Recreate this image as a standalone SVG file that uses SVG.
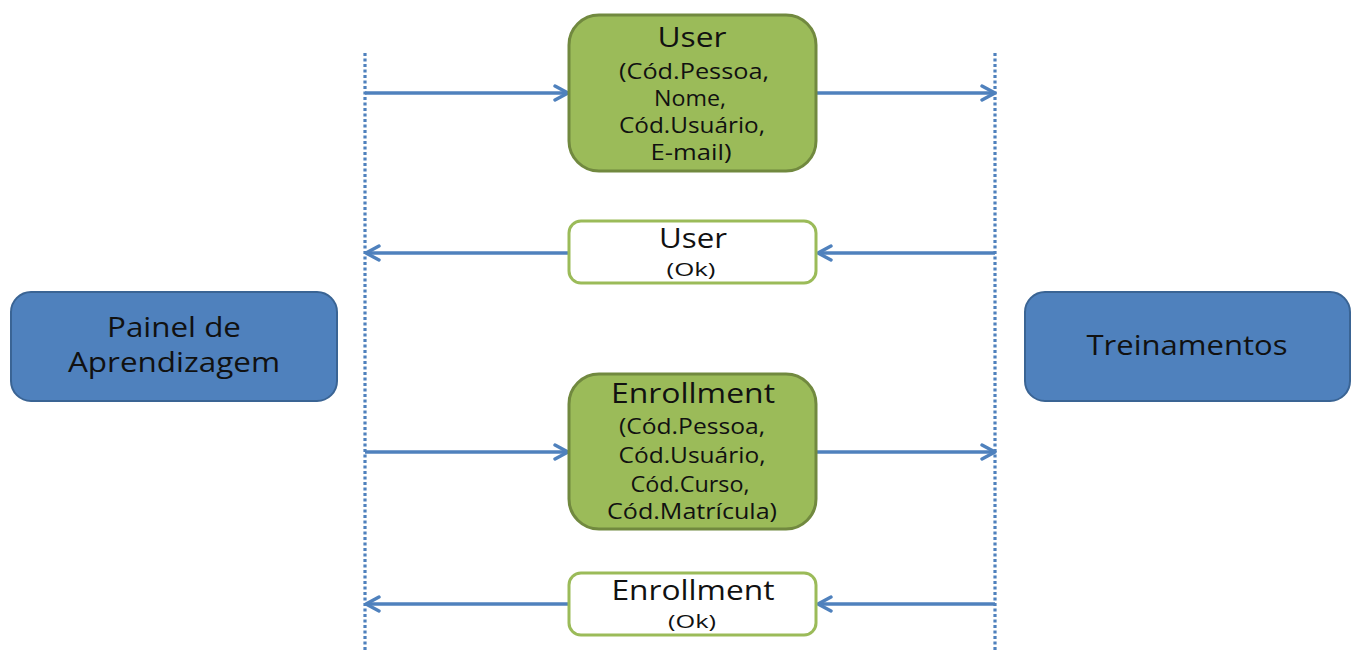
<svg xmlns="http://www.w3.org/2000/svg" width="1354" height="652" viewBox="0 0 1354 652">
<defs>
<marker id="ah" viewBox="0 0 18 18" refX="16" refY="9" markerWidth="18" markerHeight="18" markerUnits="userSpaceOnUse" orient="auto">
<path d="M3,2 L16,9 L3,16" fill="none" stroke="#4F81BD" stroke-width="3.4" stroke-linecap="round" stroke-linejoin="round"/>
</marker>
</defs>
<style>
text{font-family:"Open Sans","Noto Sans",sans-serif;fill:#111;text-anchor:middle}
.blue{fill:#4F81BD;stroke:#3A6494;stroke-width:2}
.green{fill:#9BBB59;stroke:#71893F;stroke-width:3}
.ok{fill:#fff;stroke:#9BBB59;stroke-width:3}
.life{stroke:#4F81BD;stroke-width:3.2;stroke-dasharray:3 2.5}
.msg{stroke:#4F81BD;stroke-width:3.6;fill:none;marker-end:url(#ah)}
.t{font-size:27px}
.s{font-size:22px}
.k{font-size:18px}
.b{font-size:27px}
</style>
<g id="lifelines">
<line class="life" x1="365" y1="53" x2="365" y2="652"/>
<line class="life" x1="995" y1="53" x2="995" y2="652"/>
</g>
<g id="connectors">
<line class="msg" x1="365" y1="93" x2="568" y2="93"/>
<line class="msg" x1="816" y1="93" x2="995" y2="93"/>
<line class="msg" x1="995" y1="253" x2="818" y2="253"/>
<line class="msg" x1="569" y1="253" x2="366" y2="253"/>
<line class="msg" x1="365" y1="452" x2="568" y2="452"/>
<line class="msg" x1="816" y1="452" x2="995" y2="452"/>
<line class="msg" x1="995" y1="604" x2="818" y2="604"/>
<line class="msg" x1="569" y1="604" x2="366" y2="604"/>
</g>
<g id="painel">
<rect class="blue" x="11" y="292" width="326" height="109" rx="20"/>
<text class="b" x="174" y="337" textLength="134" lengthAdjust="spacingAndGlyphs">Painel de</text>
<text class="b" x="174" y="372" textLength="212" lengthAdjust="spacingAndGlyphs">Aprendizagem</text>
</g>
<g id="treinamentos">
<rect class="blue" x="1025" y="292" width="325" height="109" rx="20"/>
<text class="b" x="1187" y="355" textLength="201" lengthAdjust="spacingAndGlyphs">Treinamentos</text>
</g>
<g id="user">
<rect class="green" x="569" y="15" width="247" height="156" rx="30"/>
<text class="t" x="692" y="47" textLength="69" lengthAdjust="spacingAndGlyphs">User</text>
<text class="s" x="694" y="79" textLength="150" lengthAdjust="spacingAndGlyphs">(Cód.Pessoa,</text>
<text class="s" x="690" y="106" textLength="72" lengthAdjust="spacingAndGlyphs">Nome,</text>
<text class="s" x="692" y="133" textLength="146" lengthAdjust="spacingAndGlyphs">Cód.Usuário,</text>
<text class="s" x="691" y="160" textLength="81" lengthAdjust="spacingAndGlyphs">E-mail)</text>
</g>
<g id="user-ok">
<rect class="ok" x="569" y="221" width="247" height="62" rx="12"/>
<text class="t" x="693" y="248" textLength="68" lengthAdjust="spacingAndGlyphs">User</text>
<text class="k" x="691" y="276" textLength="49" lengthAdjust="spacingAndGlyphs">(Ok)</text>
</g>
<g id="enrollment">
<rect class="green" x="569" y="374" width="247" height="155" rx="30"/>
<text class="t" x="693" y="403" textLength="164" lengthAdjust="spacingAndGlyphs">Enrollment</text>
<text class="s" x="692" y="434" textLength="146" lengthAdjust="spacingAndGlyphs">(Cód.Pessoa,</text>
<text class="s" x="692" y="463" textLength="147" lengthAdjust="spacingAndGlyphs">Cód.Usuário,</text>
<text class="s" x="690" y="492" textLength="119" lengthAdjust="spacingAndGlyphs">Cód.Curso,</text>
<text class="s" x="692" y="519" textLength="170" lengthAdjust="spacingAndGlyphs">Cód.Matrícula)</text>
</g>
<g id="enrollment-ok">
<rect class="ok" x="569" y="573" width="247" height="62" rx="12"/>
<text class="t" x="693" y="600" textLength="163" lengthAdjust="spacingAndGlyphs">Enrollment</text>
<text class="k" x="692" y="628" textLength="48" lengthAdjust="spacingAndGlyphs">(Ok)</text>
</g>
</svg>
